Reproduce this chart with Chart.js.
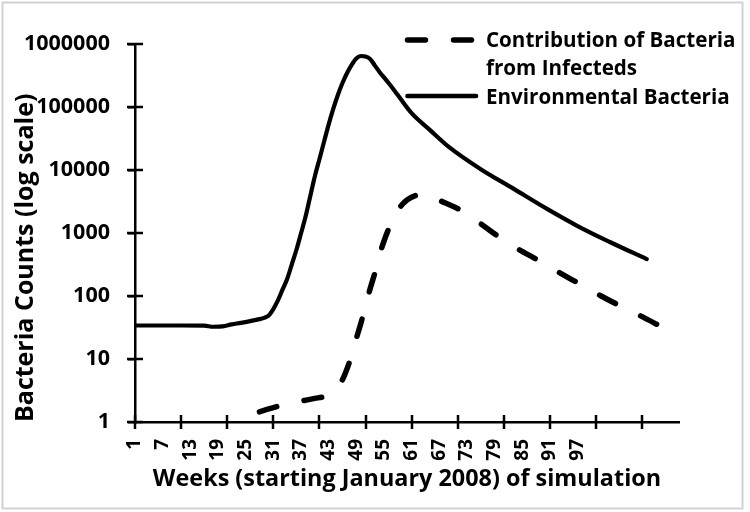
<!DOCTYPE html>
<html><head><meta charset="utf-8">
<script src="https://cdn.jsdelivr.net/npm/chart.js@4/dist/chart.umd.min.js"></script>
<style>html,body{margin:0;padding:0;background:#fff;}#wrap{width:750px;height:512px;position:relative;}canvas{display:block;}</style>
</head><body><div id="wrap"><canvas id="c" width="750" height="512"></canvas></div>
<script>
// ---- data ----
const envWeeks  = [1,6,11,16,18,20,22,24,26,28,29,30,31,32,33,34,35,36,37,38,39,40,41,42,43,44,45,46,47,48,49,50,51,52,53,54,55,56,58,61,65,69,76,83,90,97,104,112];
const envCounts = [34,34,34,33.8,32.5,33,35.5,37.5,40,43,45,49,62,85,126,186,316,537,980,1820,3800,7900,14800,28000,52500,93000,155000,240000,347000,468000,590000,645000,635000,580000,458000,363000,295000,240000,155000,80000,43000,23500,10300,5100,2500,1290,720,385];
const infWeeks  = [28,30,33,35,37,40,42,44,46,47,48,49,50,51,52,53,54,55,56,57,58,59,60,62,64,67,72,76,80,84,88,93,97,102,106,111,115];
const infCounts = [1.45,1.61,1.86,2.0,2.14,2.37,2.53,3.0,4.7,7.0,11.5,21,37,69,130,229,440,740,1150,1620,2280,2860,3350,3950,4100,3300,2230,1400,860,560,385,236,162,101,71,47,33];
const xLabelWeeks    = [1,7,13,19,25,31,37,43,49,55,61,67,73,79,85,91,97];
const xTickMarkWeeks = [1,11,21,31,41,51,61,71,81,91,101,111];
const yTickValues    = [1,10,100,1000,10000,100000,1000000];
const seriesNames = ['Contribution of Bacteria from Infecteds','Environmental Bacteria'];
const legendLines = [['Contribution of Bacteria','from Infecteds'],['Environmental Bacteria']];
const xTitle = 'Weeks (starting January 2008) of simulation';
const yTitle = 'Bacteria Counts (log scale)';
const xMin = 1, xMax = 119;

const FONT = '"Open Sans"';

function drawCrossTicks(chart) {
  const c = chart.ctx;
  const xs = chart.scales.x, ys = chart.scales.y;
  const area = chart.chartArea;
  const axisY = area.bottom, axisX = area.left;
  c.save();
  c.setLineDash([]);
  c.lineCap = 'butt';
  c.strokeStyle = '#000';
  c.lineWidth = 2.5;
  c.beginPath();
  xTickMarkWeeks.forEach(w => {
    const px = Math.round(xs.getPixelForValue(w));
    c.moveTo(px, axisY - 7); c.lineTo(px, axisY + 7);
  });
  yTickValues.forEach(v => {
    const py = Math.round(ys.getPixelForValue(v));
    c.moveTo(axisX - 8, py); c.lineTo(axisX + 8, py);
  });
  c.stroke();
  c.restore();
}

const decor = {
  id: 'decor',
  beforeDraw(chart) {
    const c = chart.ctx;
    c.save();
    c.fillStyle = '#fff';
    c.fillRect(0, 0, chart.width, chart.height);
    c.strokeStyle = '#d2d2d2';
    c.lineWidth = 2;
    c.strokeRect(2.5, 2.5, 740, 506);
    c.restore();
  },
  afterDraw(chart) {
    const c = chart.ctx;
    const rows = [{ds: 0, lineY: 40, baselines: [46.7, 75.4]}, {ds: 1, lineY: 96, baselines: [104]}];
    c.save();
    rows.forEach((r, i) => {
      const ds = chart.data.datasets[r.ds];
      c.strokeStyle = ds.borderColor;
      c.lineWidth = ds.borderWidth + (r.ds === 1 ? 0.5 : 0);
      c.lineCap = 'round';
      c.setLineDash(ds.borderDash || []);
      c.beginPath();
      c.moveTo(407.5, r.lineY); c.lineTo(476, r.lineY);
      c.stroke();
      c.setLineDash([]);
      c.fillStyle = '#000';
      c.font = 'bold 20.6px ' + FONT;
      c.textBaseline = 'alphabetic';
      c.textAlign = 'left';
      legendLines[i].forEach((t, k) => c.fillText(t, 486, r.baselines[k]));
    });
    c.restore();
    drawCrossTicks(chart);
  }
};

function build() {
  const infData = infWeeks.map((w, i) => ({x: w, y: infCounts[i]}));
  const envData = envWeeks.map((w, i) => ({x: w, y: envCounts[i]}));
  new Chart(document.getElementById('c'), {
    type: 'line',
    data: {
      datasets: [
        {label: seriesNames[0], data: infData, borderColor: '#000', borderWidth: 5.5,
         borderDash: [18, 28], borderCapStyle: 'round', pointRadius: 0, fill: false,
         cubicInterpolationMode: 'monotone'},
        {label: seriesNames[1], data: envData, borderColor: '#000', borderWidth: 4.2,
         borderCapStyle: 'round', borderJoinStyle: 'round', pointRadius: 0, fill: false,
         cubicInterpolationMode: 'monotone'}
      ]
    },
    options: {
      responsive: false, animation: false, devicePixelRatio: 1,
      layout: {padding: {top: 44, right: 71, bottom: 0, left: 0}},
      plugins: {legend: {display: false}, tooltip: {enabled: false}},
      scales: {
        x: {
          type: 'linear', min: xMin, max: xMax,
          afterFit(s) { s.height = 90; },
          afterBuildTicks(s) { s.ticks = xLabelWeeks.map(v => ({value: v})); },
          grid: {display: false, drawTicks: false},
          border: {display: true, color: '#000', width: 2.5},
          ticks: {autoSkip: false, minRotation: 90, maxRotation: 90, padding: 17,
                  color: '#000', font: {family: FONT, size: 19, weight: 'bold'},
                  callback: v => String(v)},
          title: {display: true, text: xTitle, color: '#000',
                  font: {family: FONT, size: 23.4, weight: 'bold'},
                  padding: {top: 0, bottom: 19}}
        },
        y: {
          type: 'logarithmic', min: 1, max: 1000000,
          afterFit(s) { s.width = 135; },
          afterBuildTicks(s) { s.ticks = yTickValues.map(v => ({value: v})); },
          grid: {display: true, drawOnChartArea: false, drawTicks: true, tickLength: 7, color: '#000', lineWidth: 2.5},
          border: {display: true, color: '#000', width: 2.5},
          ticks: {padding: 18, color: '#000', font: {family: FONT, size: 21.5, weight: 'bold'},
                  callback: v => String(v)},
          title: {display: true, text: yTitle, align: 'start', color: '#000',
                  font: {family: FONT, size: 25, weight: 'bold'},
                  padding: {top: 11, bottom: 0}}
        }
      }
    },
    plugins: [decor]
  });
}
(document.fonts && document.fonts.load ? Promise.all([document.fonts.load('bold 20px "Open Sans"')]).catch(()=>{}) : Promise.resolve()).then(build);
</script></body></html>
